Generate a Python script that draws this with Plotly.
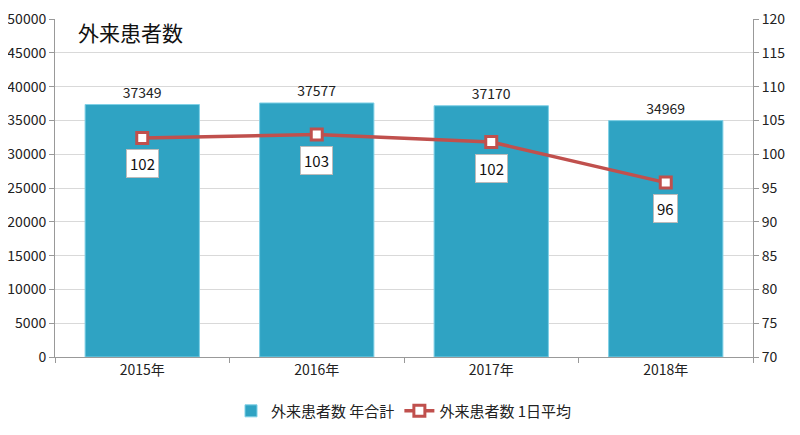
import plotly.graph_objects as go

# data
years = ['2015年', '2016年', '2017年', '2018年']
total_patients = [37349, 37577, 37170, 34969]
daily_avg = [102.4, 102.9, 101.8, 95.8]
daily_avg_label = ['102', '103', '102', '96']

font_family = "Noto Sans CJK JP, Open Sans, sans-serif"

bars = go.Bar(
    x=years, y=total_patients, name='外来患者数 年合計',
    marker=dict(color='#2FA3C3', line=dict(color='#7FD0E6', width=1)),
    text=[str(v) for v in total_patients], textposition='outside',
    textfont=dict(size=14, color='#222'), cliponaxis=False,
)

line = go.Scatter(
    x=years, y=daily_avg, name='外来患者数 1日平均', yaxis='y2',
    mode='lines+markers',
    line=dict(color='#C0504D', width=3.5),
    marker=dict(symbol='square', size=11, color='white',
                line=dict(color='#C0504D', width=3)),
)

# boxed labels under each line point
notes = [
    dict(x=x, y=v, xref='x', yref='y2', text=t, showarrow=False, yshift=-26,
         font=dict(size=15, color='#111', family=font_family),
         bgcolor='white', bordercolor='#BBBBBB', borderwidth=1, borderpad=3)
    for x, v, t in zip(years, daily_avg, daily_avg_label)
]
notes.append(dict(x=0.03, y=0.962, xref='paper', yref='paper', text='外来患者数',
                  showarrow=False, xanchor='left', yanchor='middle',
                  font=dict(size=21, color='#111', family=font_family)))

# page body has an 8px margin, so the figure is sized to the visible area
layout = go.Layout(
    width=792, height=427,
    margin=dict(l=47, r=47, t=11, b=78, autoexpand=False),
    paper_bgcolor='white', plot_bgcolor='white',
    font=dict(family=font_family, size=14, color='#222'),
    bargap=0.345,
    xaxis=dict(showline=True, linecolor='#999', ticks='outside', tickcolor='#999',
               ticklen=5, tickson='boundaries', tickfont=dict(size=14),
               automargin=False),
    yaxis=dict(range=[0, 50001], tickvals=list(range(0, 50001, 5000)),
               tickformat='d', showgrid=True, gridcolor='#D9D9D9',
               showline=True, linecolor='#999', ticks='outside', tickcolor='#999',
               ticklen=5, tickfont=dict(size=14), zeroline=False,
               ticklabeloverflow='allow', automargin=False),
    yaxis2=dict(range=[70, 120.001], tickvals=list(range(70, 121, 5)), overlaying='y',
                side='right', showgrid=False, showline=True, linecolor='#999',
                ticks='outside', tickcolor='#999', ticklen=5,
                tickfont=dict(size=14), zeroline=False, ticklabeloverflow='allow',
                automargin=False),
    legend=dict(orientation='h', x=0.5, xanchor='center', y=-0.16, yanchor='middle',
                font=dict(size=15)),
    annotations=notes,
)

fig = go.Figure(data=[bars, line], layout=layout)
fig.write_html("out.html")
